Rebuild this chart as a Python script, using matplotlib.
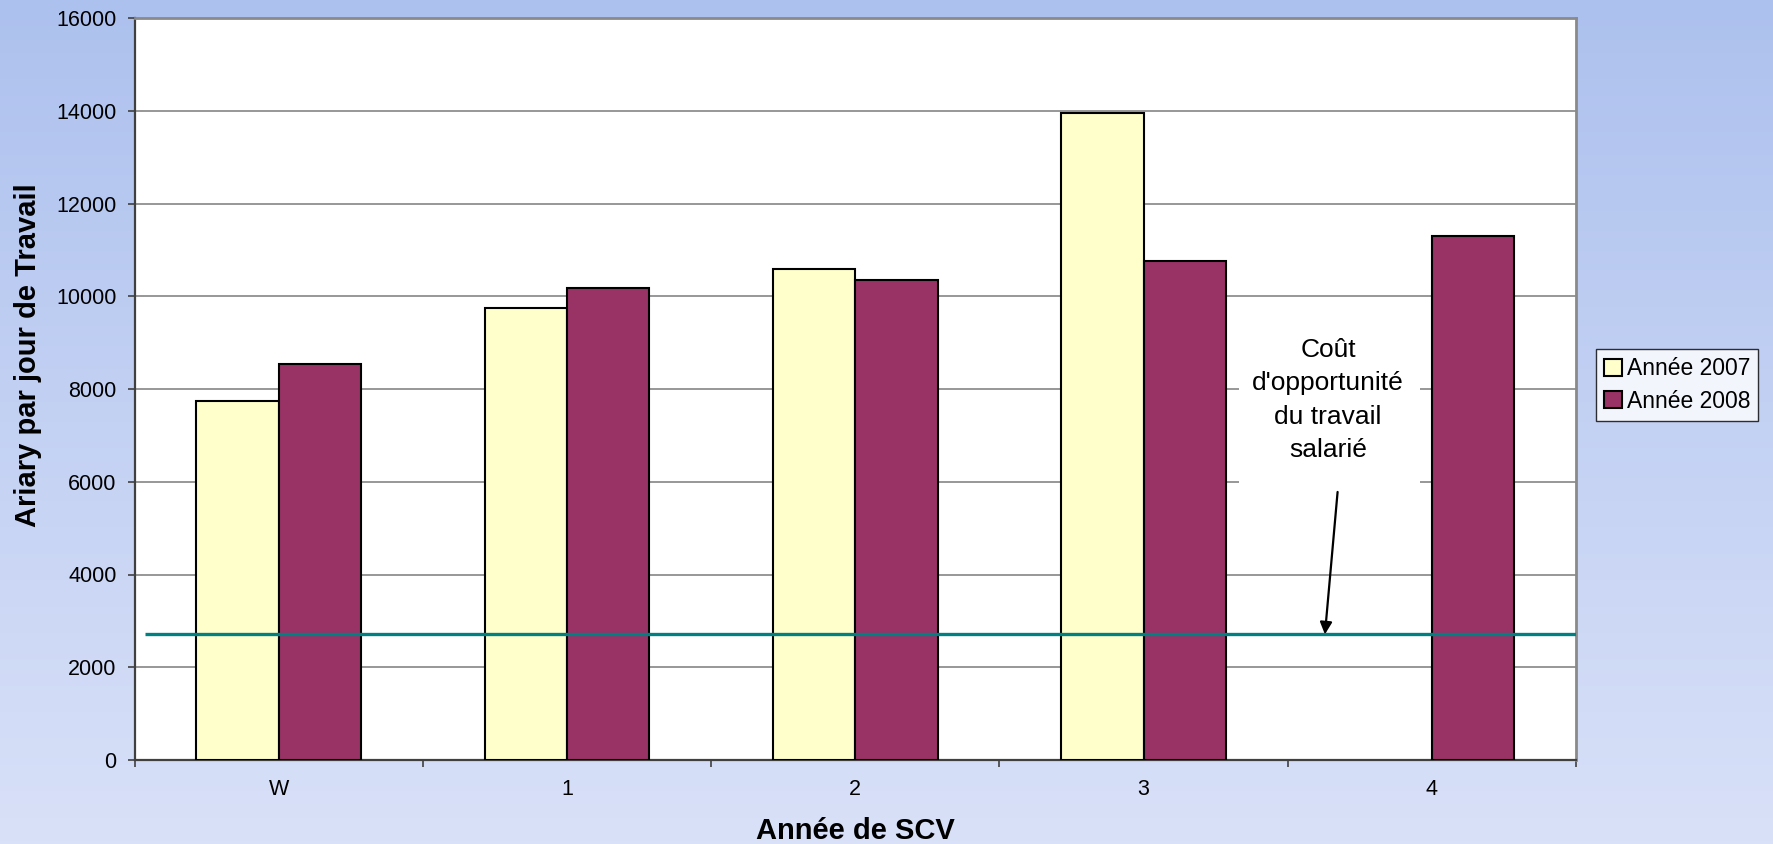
import numpy as np
import matplotlib
matplotlib.use("Agg")
import matplotlib.pyplot as plt
from matplotlib.colors import LinearSegmentedColormap
from matplotlib.patches import Rectangle

categories = ["W", "1", "2", "3", "4"]
annee_2007 = [7740, 9740, 10580, 13950, np.nan]
annee_2008 = [8540, 10180, 10345, 10750, 11300]
cout_opportunite = 2710
series_labels = ["Année 2007", "Année 2008"]
y_ticks = [0, 2000, 4000, 6000, 8000, 10000, 12000, 14000, 16000]

plt.rcParams['font.family'] = ['Liberation Sans', 'DejaVu Sans']

W, H = 1774, 844
fig = plt.figure(figsize=(W / 100, H / 100), dpi=100)

# background gradient
bg = fig.add_axes([0, 0, 1, 1], zorder=-10)
cmap = LinearSegmentedColormap.from_list("bg", ["#ADC1EE", "#D9E1F8"])
grad = np.linspace(0, 1, 256).reshape(-1, 1)
bg.imshow(grad, aspect='auto', cmap=cmap, extent=[0, 1, 0, 1], origin='upper')
bg.axis('off')

left, right, top, bottom = 134.6, 1576, 18, 760
ax = fig.add_axes([left / W, 1 - bottom / H, (right - left) / W, (bottom - top) / H])
ax.set_facecolor('white')

x = np.arange(len(categories))
w = 0.2857
v07 = np.array(annee_2007, dtype=float)
v08 = np.array(annee_2008, dtype=float)
m07 = ~np.isnan(v07)
b1 = ax.bar(x[m07] - w / 2, v07[m07], width=w, color='#FFFFCC', edgecolor='black',
            linewidth=1.5, zorder=3, label=series_labels[0])
b2 = ax.bar(x + w / 2, v08, width=w, color='#993366', edgecolor='black',
            linewidth=1.5, zorder=3, label=series_labels[1])

ax.set_xlim(-0.5, len(categories) - 0.5)
ax.set_ylim(y_ticks[0], y_ticks[-1])

# opportunity cost line
ax.plot([-0.465, len(categories) - 0.5], [cout_opportunite, cout_opportunite],
        color='#008080', linewidth=2.4, zorder=4, solid_capstyle='butt')

# grid
for yt in y_ticks[1:-1]:
    ax.axhline(yt, color='#7A7A7A', linewidth=1.1, zorder=1)

ax.set_yticks(y_ticks)
ax.set_yticklabels([str(v) for v in y_ticks], fontsize=15.5)
ax.set_xticks(np.arange(len(categories) + 1) - 0.5)
ax.set_xticklabels([])
ax.set_xticks(x, minor=True)
ax.set_xticklabels(categories, minor=True, fontsize=15.5)
ax.tick_params(axis='x', which='minor', length=0, pad=14)
ax.tick_params(axis='x', which='major', length=5, width=1.2, color='#404040', direction='out')
ax.tick_params(axis='y', length=5, width=1.2, color='#404040', direction='out', pad=8)

for s in ['top', 'right']:
    ax.spines[s].set_color('#8A8A8A')
    ax.spines[s].set_linewidth(2.0)
for s in ['left', 'bottom']:
    ax.spines[s].set_color('#404040')
    ax.spines[s].set_linewidth(1.6)

ax.set_xlabel("Année de SCV", fontsize=21, fontweight='bold')
ax.xaxis.set_label_coords(0.5, -0.096)
ax.xaxis.label.set_va('center')
ax.set_ylabel("Ariary par jour de Travail", fontsize=21, fontweight='bold')
ax.yaxis.set_label_coords(-0.074, 0.546)
ax.yaxis.label.set_va('center')

# annotation: white box, text and arrow
ax.add_patch(Rectangle((3.331, 5900), 0.627, 3630, facecolor='white', edgecolor='none', zorder=2))
ax.annotate("", xy=(3.629, cout_opportunite), xytext=(3.673, 5780),
            arrowprops=dict(arrowstyle='-|>', color='black', lw=1.6,
                            mutation_scale=18, shrinkA=0, shrinkB=0), zorder=6)
ax.text(3.64, 7763, "Coût\nd'opportunité\ndu travail\nsalarié", ha='center', va='center',
        fontsize=19, linespacing=1.5, zorder=5)

leg = fig.legend(handles=[b1, b2], labels=series_labels, loc='center',
                 bbox_to_anchor=(1677 / W, 1 - 385 / H), fontsize=16.5, frameon=True,
                 fancybox=False, edgecolor='black', handlelength=0.8, handleheight=0.8,
                 handletextpad=0.2, borderpad=0.35, labelspacing=0.4, borderaxespad=0)
leg.get_frame().set_linewidth(1.0)

fig.savefig("out.png", dpi=100)
